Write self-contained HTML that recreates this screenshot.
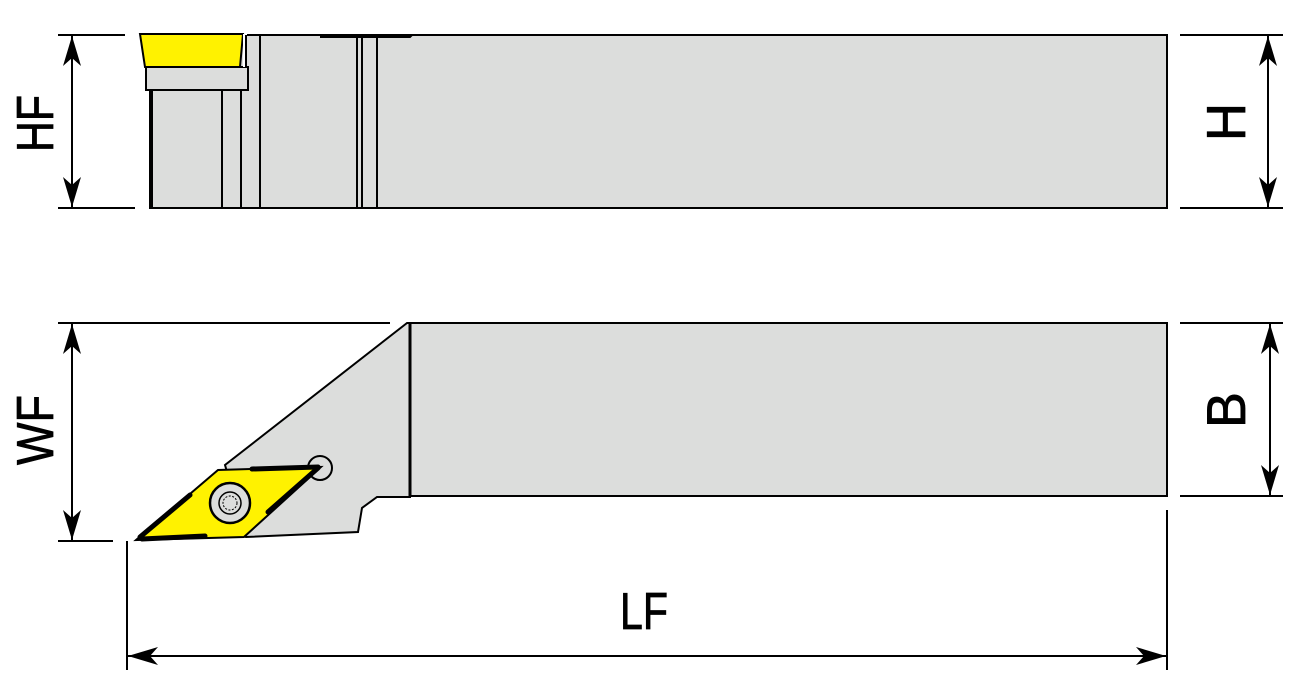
<!DOCTYPE html>
<html><head><meta charset="utf-8"><style>
html,body{margin:0;padding:0;background:#fff;width:1306px;height:700px;overflow:hidden}
svg{display:block}
text{font-family:"Liberation Sans",sans-serif;fill:#000;stroke:#000;stroke-width:0.8}
</style></head><body>
<svg width="1306" height="700" viewBox="0 0 1306 700" xmlns="http://www.w3.org/2000/svg">
<defs>
<marker id="a" viewBox="0 0 32 18" refX="31" refY="9" markerWidth="32" markerHeight="18" markerUnits="userSpaceOnUse" orient="auto-start-reverse">
<path d="M31,9 L1,0 L9,9 L1,18 Z" fill="#000"/>
</marker>
</defs>
<!-- TOP VIEW -->
<rect x="150" y="35" width="1017" height="173" fill="#dcdddc" stroke="#000" stroke-width="2"/>
<rect x="118" y="20" width="300" height="14" fill="#fff"/>
<path d="M248,35 L320,35 M320,37 L410,37 L412,35 L1167,35" stroke="#000" stroke-width="2" fill="none"/>
<polygon points="140,34 243,34 240,67 145,67" fill="#fff200" stroke="#000" stroke-width="2"/>
<rect x="146" y="67" width="102" height="23" fill="#dcdddc" stroke="#000" stroke-width="2"/>
<rect x="243" y="34" width="4" height="33" fill="#fff"/>
<g stroke="#000" stroke-width="2">
<line x1="246" y1="35" x2="246" y2="67"/>
<line x1="152" y1="90" x2="152" y2="208"/>
<line x1="222" y1="90" x2="222" y2="208"/>
<line x1="241" y1="90" x2="241" y2="208"/>
<line x1="260" y1="35" x2="260" y2="208"/>
<line x1="357" y1="36" x2="357" y2="208"/>
<line x1="362" y1="36" x2="362" y2="208"/>
<line x1="377" y1="36" x2="377" y2="208"/>
</g>
<!-- SIDE VIEW -->
<polygon points="407,323 225,465 246,537 358,532 362,508 377,497 410,497 410,323" fill="#dcdddc" stroke="#000" stroke-width="2"/>
<rect x="410" y="323" width="757" height="173" fill="#dcdddc" stroke="#000" stroke-width="2"/>
<line x1="410" y1="323" x2="410" y2="497" stroke="#000" stroke-width="3"/>
<circle cx="320" cy="468" r="12" fill="#dcdddc" stroke="#000" stroke-width="2"/>
<polygon points="136,540 218,470 321,467 244,537" fill="#fff200" stroke="#000" stroke-width="2"/>
<g stroke="#000" stroke-width="5" stroke-linecap="round">
<line x1="140" y1="537" x2="190" y2="495"/>
<line x1="142" y1="539" x2="205" y2="536"/>
<line x1="252" y1="469" x2="318" y2="467"/>
<line x1="318" y1="468" x2="268" y2="512"/>
</g>
<circle cx="230" cy="503" r="20" fill="#dcdddc" stroke="#000" stroke-width="2.5"/>
<circle cx="230" cy="503" r="11" fill="#dcdddc" stroke="#000" stroke-width="1.5"/>
<circle cx="230" cy="503" r="7" fill="none" stroke="#000" stroke-width="1" stroke-dasharray="2,1.5"/>
<!-- DIMENSIONS -->
<g stroke="#000" stroke-width="2" fill="none">
<line x1="58" y1="35" x2="125" y2="35"/>
<line x1="58" y1="208" x2="135" y2="208"/>
<line x1="72" y1="36" x2="72" y2="207" marker-start="url(#a)" marker-end="url(#a)"/>
<line x1="1180" y1="35" x2="1283" y2="35"/>
<line x1="1180" y1="208" x2="1283" y2="208"/>
<line x1="1268" y1="36" x2="1268" y2="207" marker-start="url(#a)" marker-end="url(#a)"/>
<line x1="58" y1="323" x2="390" y2="323"/>
<line x1="58" y1="541" x2="113" y2="541"/>
<line x1="72" y1="324" x2="72" y2="540" marker-start="url(#a)" marker-end="url(#a)"/>
<line x1="1180" y1="323" x2="1283" y2="323"/>
<line x1="1180" y1="496" x2="1283" y2="496"/>
<line x1="1270" y1="324" x2="1270" y2="495" marker-start="url(#a)" marker-end="url(#a)"/>
<line x1="127" y1="541" x2="127" y2="670"/>
<line x1="1167" y1="510" x2="1167" y2="670"/>
<line x1="128" y1="656" x2="1166" y2="656" marker-start="url(#a)" marker-end="url(#a)"/>
</g>
<text x="620" y="629" font-size="52" textLength="48" lengthAdjust="spacingAndGlyphs">LF</text>
<text transform="translate(53,152) rotate(-90)" font-size="52" textLength="57" lengthAdjust="spacingAndGlyphs">HF</text>
<text transform="translate(1245,141) rotate(-90)" font-size="55" textLength="38" lengthAdjust="spacingAndGlyphs">H</text>
<text transform="translate(53,465) rotate(-90)" font-size="52" textLength="70" lengthAdjust="spacingAndGlyphs">WF</text>
<text transform="translate(1245,428) rotate(-90)" font-size="55" textLength="36" lengthAdjust="spacingAndGlyphs">B</text>
</svg>
</body></html>
